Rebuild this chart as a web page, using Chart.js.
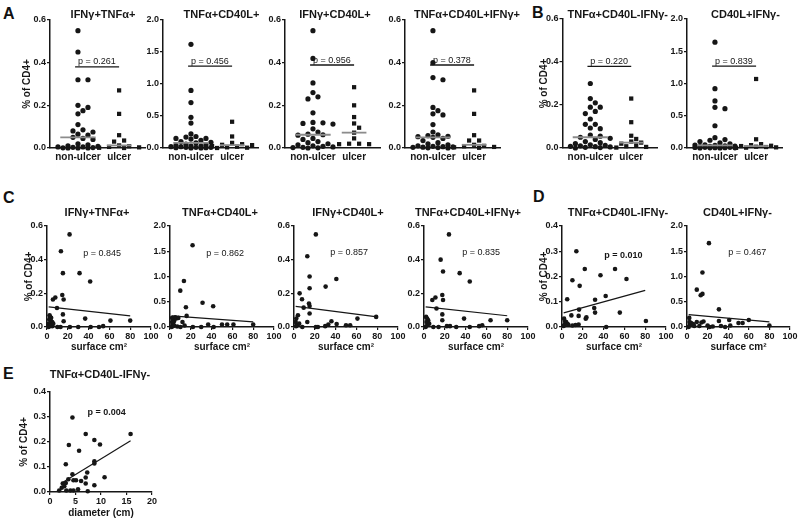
<!DOCTYPE html>
<html>
<head>
<meta charset="utf-8">
<script src="https://cdn.jsdelivr.net/npm/chart.js@4.4.1/dist/chart.umd.min.js"></script>
<style>
  body { margin: 0; width: 800px; height: 518px; position: relative; overflow: hidden; background: #fff; }
  canvas { position: absolute; }
  .letter { position: absolute; font: bold 16px "Liberation Sans", Arial, sans-serif; line-height: 1; color: #111; }
</style>
</head>
<body>
<div class="letter" style="left:3px;top:6px">A</div>
<div class="letter" style="left:532px;top:5px">B</div>
<div class="letter" style="left:3px;top:190px">C</div>
<div class="letter" style="left:533px;top:189px">D</div>
<div class="letter" style="left:3px;top:366px">E</div>
<script>
// ---- data ----
const groups = ['non-ulcer', 'ulcer'];
const titles = ['IFNγ+TNFα+', 'TNFα+CD40L+', 'IFNγ+CD40L+', 'TNFα+CD40L+IFNγ+', 'TNFα+CD40L-IFNγ-', 'CD40L+IFNγ-'];

// A / B: % of CD4+ per group
const a1NonUlcer = [0.55,0.45,0.32,0.32,0.20,0.19,0.175,0.16,0.11,0.085,0.08,0.075,0.065,0.06,0.05,0.045,0.04,0.02,0.015,0.01,0.008,0.005,0.005,0.003,0.002,0.001,0,0,0];
const a1Ulcer    = [0.27,0.16,0.06,0.035,0.03,0.012,0.008,0.005,0.003,0.001,0];
const a2NonUlcer = [1.62,0.90,0.71,0.48,0.39,0.22,0.18,0.17,0.15,0.15,0.14,0.12,0.10,0.09,0.08,0.06,0.05,0.04,0.03,0.03,0.02,0.02,0.01,0.01,0.01,0.005,0.005,0,0];
const a2Ulcer    = [0.41,0.18,0.08,0.06,0.05,0.045,0.03,0.02,0.01,0.005,0];
const a3NonUlcer = [0.55,0.42,0.305,0.26,0.24,0.23,0.165,0.12,0.118,0.115,0.112,0.09,0.075,0.065,0.062,0.06,0.045,0.04,0.03,0.025,0.02,0.015,0.01,0.008,0.005,0.003,0.002,0.001,0];
const a3Ulcer    = [0.285,0.20,0.145,0.115,0.095,0.072,0.045,0.02,0.02,0.018,0.018];
const a4NonUlcer = [0.55,0.40,0.33,0.32,0.19,0.175,0.16,0.155,0.11,0.075,0.062,0.058,0.055,0.053,0.05,0.045,0.035,0.025,0.02,0.015,0.01,0.008,0.006,0.005,0.004,0.003,0.002,0.001,0];
const a4Ulcer    = [0.27,0.16,0.06,0.035,0.035,0.015,0.01,0.008,0.005,0.003,0.001];
const b1NonUlcer = [0.30,0.23,0.21,0.19,0.19,0.17,0.16,0.135,0.11,0.11,0.093,0.09,0.06,0.055,0.05,0.045,0.04,0.03,0.025,0.02,0.015,0.012,0.01,0.008,0.006,0.005,0.003,0.002,0];
const b1Ulcer    = [0.23,0.12,0.057,0.042,0.03,0.025,0.02,0.012,0.008,0.005,0.002];
const b2NonUlcer = [1.64,0.92,0.73,0.63,0.61,0.345,0.16,0.13,0.12,0.10,0.08,0.065,0.05,0.045,0.04,0.035,0.03,0.025,0.02,0.015,0.01,0.01,0.008,0.005,0.005,0.003,0.002,0.001,0];
const b2Ulcer    = [1.07,0.135,0.06,0.045,0.035,0.03,0.02,0.015,0.01,0.005,0.002];
const groupPValues = ['0.261', '0.456', '0.956', '0.378', '0.220', '0.839'];
const bracketLevels = [0.38, 1.28, 0.389, 0.389, 0.38, 1.27];

// C / D: % of CD4+ against ulcer surface (cm²)
const c1Surface = [21.7,13.4,15.3,31.3,41.5,14.7,16,8,5.7,9.6,15.3,2.5,3,4,2.2,3.5,5,1.8,16,36.7,61,80,3,5,10,13,22,30,42,50,54,1.6,2,4,6];
const c1Pct     = [0.55,0.45,0.32,0.32,0.27,0.19,0.163,0.175,0.163,0.113,0.075,0.07,0.06,0.055,0.045,0.04,0.03,0.02,0.034,0.05,0.038,0.038,0.01,0.005,0,0,0,0,0,0,0.005,0,0.005,0.012,0.02];
const c2Surface = [21.7,13.4,9.9,15.3,31.3,41.5,16,2,3,4,5,6,8,3,2.5,12,36.7,50,55,61,80,1.6,3,7,10,22,30,42,14,4,2];
const c2Pct     = [1.62,0.91,0.72,0.39,0.48,0.41,0.22,0.18,0.15,0.12,0.19,0.17,0.18,0.08,0.05,0.1,0.05,0.05,0.05,0.05,0.05,0,0.02,0.01,0,0,0,0,0.03,0.03,0.1];
const c3Surface = [21,12.8,15,15,30.4,40.7,5.4,7.7,14.4,15,9.3,15,3.8,2.2,1.6,12.8,36,41,61,79,21,23,30,33,50,54,3,5,8,2];
const c3Pct     = [0.55,0.42,0.30,0.23,0.24,0.285,0.20,0.165,0.14,0.125,0.115,0.08,0.07,0.05,0.03,0.03,0.034,0.018,0.05,0.06,0,0,0.005,0.015,0.01,0.01,0.01,0.02,0,0.005];
const c4Surface = [24,16,18.3,34.3,44,17.6,18.3,8,11,12,17.6,17.6,38.5,64,80,2,3,4,2.5,5,1.6,9,14,22,25,31,44,53,56,3];
const c4Pct     = [0.55,0.40,0.33,0.32,0.27,0.19,0.16,0.16,0.175,0.11,0.075,0.04,0.05,0.04,0.04,0.06,0.05,0.04,0.03,0.02,0,0,0,0.005,0.005,0,0,0.005,0.01,0.01];
const d1Surface = [13.8,21.9,10,17,37,51,62,5,31.8,42,31,31.8,16.4,9,16,22.8,23.5,55.6,80.7,2,3,4,5,2.5,1.6,6,42.5,10,13,16];
const d1Pct     = [0.30,0.23,0.185,0.163,0.205,0.23,0.19,0.11,0.108,0.123,0.075,0.057,0.069,0.046,0.044,0.033,0.038,0.057,0.024,0.033,0.022,0.02,0.013,0.01,0.004,0.01,0,0.006,0.008,0.01];
const d2Surface = [21.3,15,9.5,13.3,15,31,2.2,16,9.5,31,41,50,54,60,80,1.6,3,5,7,12,22,25,33,37,42,4,2.5,14,20,6];
const d2Pct     = [1.66,1.08,0.74,0.63,0.655,0.35,0.18,0.11,0.10,0.12,0.14,0.08,0.08,0.14,0.03,0,0.05,0.04,0.02,0.02,0,0.01,0.02,0,0.03,0.08,0.1,0.09,0.03,0.06];
const surfacePValues = ['0.845', '0.862', '0.857', '0.835', '0.010', '0.467'];
const fitSurface = [1.6, 80];
const c1Fit = [0.119, 0.066];
const c2Fit = [0.22, 0.10];
const c3Fit = [0.123, 0.06];
const c4Fit = [0.12, 0.067];
const d1Fit = [0.056, 0.145];
const d2Fit = [0.245, 0.10];

// E: % of CD4+ against diameter (cm)
const eDiameter = [4.4,7,8.7,9.8,15.8,3.7,5.7,3.1,8.7,8.7,4.4,7.3,7,10.7,3.6,4.6,5.1,6.1,2.5,3.1,7,8.7,2.3,2.8,1.8,3.2,4,4.6,5.5,7.4];
const ePct      = [0.298,0.232,0.208,0.19,0.232,0.188,0.165,0.111,0.123,0.114,0.071,0.078,0.058,0.059,0.051,0.047,0.047,0.044,0.034,0.036,0.034,0.027,0.017,0.023,0.006,0.006,0.006,0.006,0.011,0.003];
const eFitDiameter = [2.3, 15.8];
const eFit = [0.036, 0.205];
const ePValue = '0.004';

// ---- drawing ----
const FONT = '"Liberation Sans", Arial, Helvetica, sans-serif';
const INK = '#161616';
Chart.defaults.font.family = FONT;
Chart.defaults.color = INK;

const X_MIN = 0.32, X_MAX = 2.63; // group axis range

function median(arr) {
  const s = [...arr].sort((a, b) => a - b);
  const m = Math.floor(s.length / 2);
  return s.length % 2 ? s[m] : (s[m - 1] + s[m]) / 2;
}

// simple bee-swarm so dots with close values sit side by side
function swarm(values, center, pxPerY, pxPerX) {
  const placed = [];
  const xs = new Array(values.length);
  const order = values.map((v, i) => i).sort((a, b) => values[b] - values[a]);
  for (const i of order) {
    const py = values[i] * pxPerY;
    let best = 0, bestD = -1;
    for (let k = 0; k <= 8; k++) {
      const off = (k % 2 ? 1 : -1) * Math.ceil(k / 2) * 5;
      let dmin = Infinity;
      for (const p of placed) dmin = Math.min(dmin, Math.hypot(p.px - off, p.py - py));
      if (dmin >= 5.5) { best = off; break; }
      if (dmin > bestD) { bestD = dmin; best = off; }
    }
    placed.push({ px: best, py });
    xs[i] = center + best / pxPerX;
  }
  return xs;
}

const decor = {
  id: 'decor',
  afterDatasetsDraw(chart, args, o) {
    const { ctx, chartArea, scales } = chart;
    ctx.save();
    ctx.fillStyle = INK;
    ctx.textAlign = 'center';
    ctx.textBaseline = 'middle';
    ctx.font = 'bold 11px ' + FONT;
    ctx.fillText(o.title, (chartArea.left + chartArea.right) / 2 + o.titleDx, chartArea.top - o.titleGap);
    ctx.font = (o.pBold ? 'bold ' : '') + '9px ' + FONT;
    ctx.textBaseline = o.pBaseline;
    ctx.fillText('p = ' + o.p, scales.x.getPixelForValue(o.pAt[0]), scales.y.getPixelForValue(o.pAt[1]) + o.pLift);
    ctx.restore();
  }
};

function line(points, color, width) {
  return { data: points, showLine: true, borderColor: color, borderWidth: width, pointRadius: 0, clip: false };
}

function makePanel(p, datasets, xScale) {
  const canvas = document.createElement('canvas');
  const left = p.x0 - p.padLeft, top = p.y0 - p.padTop;
  const w = p.x1 + p.padRight - left, h = p.y1 + p.padBottom - top;
  canvas.width = w; canvas.height = h;
  canvas.style.left = left + 'px'; canvas.style.top = top + 'px';
  canvas.style.width = w + 'px'; canvas.style.height = h + 'px';
  document.body.appendChild(canvas);
  return new Chart(canvas, {
    type: 'scatter',
    data: { datasets },
    options: {
      responsive: false,
      animation: false,
      events: [],
      layout: { padding: { top: p.padTop, right: p.padRight, left: 0, bottom: 0 } },
      plugins: {
        legend: { display: false },
        tooltip: { enabled: false },
        decor: p.decor
      },
      scales: {
        x: Object.assign({
          type: 'linear',
          afterFit: s => { s.height = p.padBottom; },
          border: { color: INK, width: 1.5 }
        }, xScale),
        y: {
          type: 'linear',
          min: 0, max: p.yMax,
          afterFit: s => { s.width = p.padLeft; },
          border: { color: INK, width: 1.5 },
          grid: { drawOnChartArea: false, tickLength: 3, color: INK, lineWidth: 1.2 },
          ticks: { stepSize: p.yStep, padding: 1, font: { size: 9, weight: 'bold' }, color: INK, callback: v => v.toFixed(1) },
          title: { display: !!p.yTitle, text: '% of CD4+', padding: 0, font: { size: 10, weight: 'bold' }, color: INK }
        }
      }
    },
    plugins: [decor]
  });
}

// group panels (A, B)
const groupSets = [
  [a1NonUlcer, a1Ulcer], [a2NonUlcer, a2Ulcer], [a3NonUlcer, a3Ulcer],
  [a4NonUlcer, a4Ulcer], [b1NonUlcer, b1Ulcer], [b2NonUlcer, b2Ulcer]
];
const groupLayout = [
  { x0: 50,  y0: 20, yMax: 0.6, yStep: 0.2, yTitle: true, padLeft: 29, titleDx: 5.5 },
  { x0: 163, y0: 20, yMax: 2.0, yStep: 0.5, padLeft: 24, titleDx: 11 },
  { x0: 285, y0: 20, yMax: 0.6, yStep: 0.2, padLeft: 24, titleDx: 2.5 },
  { x0: 405, y0: 20, yMax: 0.6, yStep: 0.2, padLeft: 24, titleDx: 14.5 },
  { x0: 562, y0: 19, yMax: 0.6, yStep: 0.2, yTitle: true, padLeft: 24.5, titleDx: 8 },
  { x0: 687, y0: 19, yMax: 2.0, yStep: 0.5, padLeft: 24, titleDx: 11 }
];

groupLayout.forEach((g, i) => {
  const p = Object.assign({ x1: g.x0 + 95, y1: 148, padTop: 16, padRight: 22, padBottom: 20 }, g);
  const pxY = (p.y1 - p.y0) / p.yMax;
  const pxX = (p.x1 - p.x0) / (X_MAX - X_MIN);
  const [non, ulc] = groupSets[i];
  const mNon = median(non), mUlc = median(ulc);
  const xsNon = swarm(non, 1, pxY, pxX);
  const xsUlc = swarm(ulc, 2, pxY, pxX);
  p.decor = {
    title: titles[i], titleDx: p.titleDx, titleGap: p.y0 - 15,
    p: groupPValues[i], pAt: [1.46, bracketLevels[i]], pBaseline: 'alphabetic', pLift: -2.5
  };
  const datasets = [
    line([{ x: 1 - 0.43, y: mNon }, { x: 1 + 0.43, y: mNon }], '#8c8c8c', 1.8),
    line([{ x: 2 - 0.3, y: mUlc }, { x: 2 + 0.3, y: mUlc }], '#8c8c8c', 1.8),
    line([{ x: 0.93, y: bracketLevels[i] }, { x: 2.0, y: bracketLevels[i] }], INK, 1.3),
    { data: non.map((v, k) => ({ x: xsNon[k], y: v })), pointStyle: 'circle', pointRadius: 2.6,
      backgroundColor: INK, borderWidth: 0, clip: false },
    { data: ulc.map((v, k) => ({ x: xsUlc[k], y: v })), pointStyle: 'rect', pointRadius: 3,
      backgroundColor: INK, borderWidth: 0, clip: false }
  ];
  makePanel(p, datasets, {
    min: X_MIN, max: X_MAX,
    afterBuildTicks: s => { s.ticks = [{ value: 1 }, { value: 2 }]; },
    grid: { display: false, drawTicks: false },
    ticks: { maxRotation: 0, minRotation: 0, autoSkip: false, padding: 3, color: INK, font: { size: 10, weight: 'bold' },
             callback: v => groups[v - 1] }
  });
});

// surface / diameter panels (C, D, E)
const scatterSets = [
  [c1Surface, c1Pct, fitSurface, c1Fit], [c2Surface, c2Pct, fitSurface, c2Fit],
  [c3Surface, c3Pct, fitSurface, c3Fit], [c4Surface, c4Pct, fitSurface, c4Fit],
  [d1Surface, d1Pct, fitSurface, d1Fit], [d2Surface, d2Pct, fitSurface, d2Fit],
  [eDiameter, ePct, eFitDiameter, eFit]
];
const scatterLayout = [
  { x0: 47,  x1: 151, y0: 226, y1: 327, yMax: 0.6, yStep: 0.2, yTitle: true, padLeft: 24, titleDx: -2, pAt: [53, 0.438] },
  { x0: 170, x1: 274, y0: 226, y1: 327, yMax: 2.0, yStep: 0.5, padLeft: 24, titleDx: -2, pAt: [53, 1.46] },
  { x0: 294, x1: 398, y0: 226, y1: 327, yMax: 0.6, yStep: 0.2, padLeft: 24, titleDx: 2, pAt: [53, 0.44] },
  { x0: 424, x1: 528, y0: 226, y1: 327, yMax: 0.6, yStep: 0.2, padLeft: 24, titleDx: -8, pAt: [55, 0.44] },
  { x0: 562, x1: 666, y0: 226, y1: 327, yMax: 0.4, yStep: 0.1, yTitle: true, padLeft: 24, titleDx: 4, pAt: [59, 0.285], pBold: true },
  { x0: 687, x1: 790, y0: 226, y1: 327, yMax: 2.0, yStep: 0.5, padLeft: 24, titleDx: -1, pAt: [58.5, 1.47] },
  { x0: 50,  x1: 152, y0: 392, y1: 492, yMax: 0.4, yStep: 0.1, yTitle: true, padLeft: 32, titleDx: -1, pAt: [11.1, 0.317], pBold: true,
    xMax: 20, xStep: 5, xTitle: 'diameter (cm)', titleY: 375, padTop: 24, padBottom: 27, title: titles[4], p: ePValue }
];

scatterLayout.forEach((g, i) => {
  const p = Object.assign({ xMax: 100, xStep: 20, xTitle: 'surface cm²', titleY: 213, padTop: 20, padRight: 10, padBottom: 26,
                            title: titles[i], p: surfacePValues[i] }, g);
  const [xs, ys, fx, fy] = scatterSets[i];
  p.decor = {
    title: p.title, titleDx: p.titleDx, titleGap: p.y0 - p.titleY,
    p: p.p, pAt: p.pAt, pBold: p.pBold, pBaseline: 'middle', pLift: 0
  };
  const datasets = [
    line(fx.map((x, k) => ({ x, y: fy[k] })), INK, 1.2),
    { data: xs.map((x, k) => ({ x, y: ys[k] })), pointStyle: 'circle', pointRadius: 2.3,
      backgroundColor: INK, borderWidth: 0, clip: false }
  ];
  makePanel(p, datasets, {
    min: 0, max: p.xMax,
    grid: { drawOnChartArea: false, tickLength: 3, color: INK, lineWidth: 1.2 },
    ticks: { stepSize: p.xStep, maxRotation: 0, minRotation: 0, autoSkip: false, padding: 1, color: INK,
             font: { size: 9, weight: 'bold' } },
    title: { display: true, text: p.xTitle, padding: 0, font: { size: 10, weight: 'bold' }, color: INK }
  });
});
</script>
</body>
</html>
